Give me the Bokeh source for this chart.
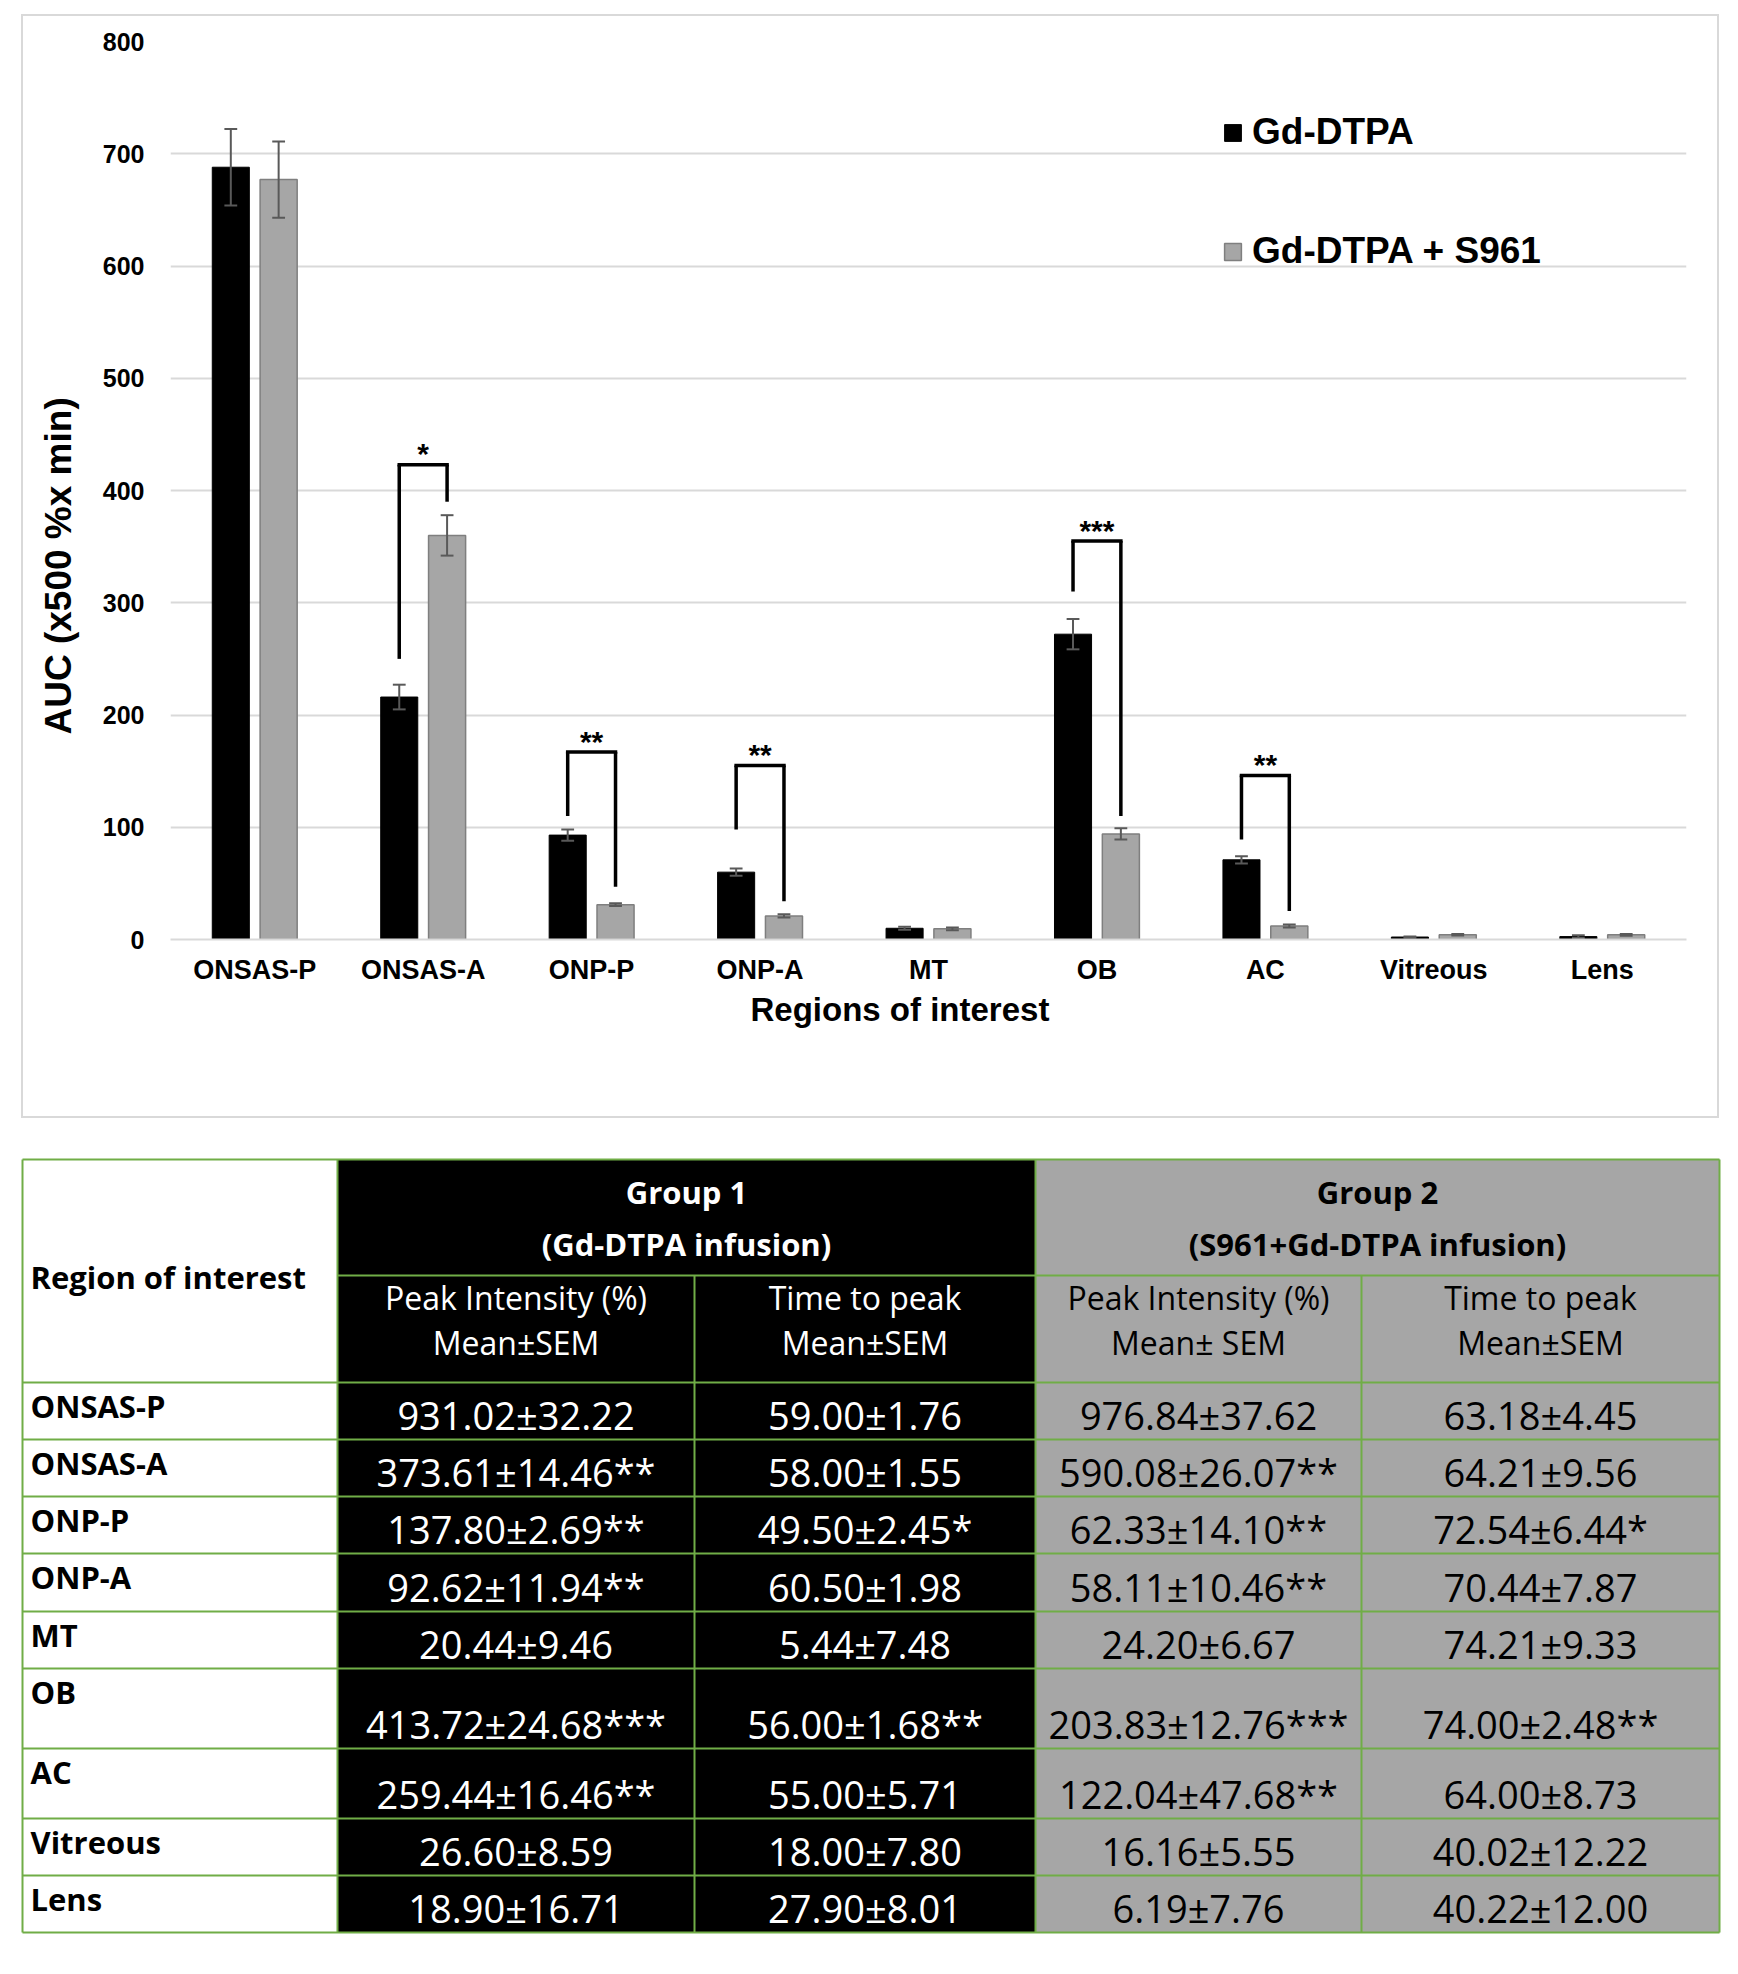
import math
from bokeh.plotting import figure
from bokeh.models import ColumnDataSource, FactorRange, Range1d, FixedTicker, Legend, LegendItem, Title
from bokeh.transform import dodge
from bokeh.embed import file_html
from bokeh.resources import INLINE
from bokeh.core.properties import value

# ---------------- data ----------------
regions = ["ONSAS-P", "ONSAS-A", "ONP-P", "ONP-A", "MT", "OB", "AC", "Vitreous", "Lens"]
auc_gd = [688, 216, 93, 60, 10, 272, 71, 2.2, 2.6]
sem_gd = [34, 11, 5, 3.3, 1.3, 13.5, 3.2, 0.4, 1.2]
auc_s961 = [677, 360, 31, 21, 9.5, 94, 12, 4.2, 4.2]
sem_s961 = [34, 18, 1.2, 1.4, 1.3, 5, 1.3, 0.6, 0.8]
y_ticks = [0, 100, 200, 300, 400, 500, 600, 700, 800]

sig_regions = ["ONSAS-A", "ONP-P", "ONP-A", "OB", "AC"]
sig_top = [423, 167, 155, 355, 146]
sig_left_end = [250, 110, 98, 310, 89]
sig_right_end = [390, 47, 34, 110, 25.5]
sig_stars = ["*", "**", "**", "***", "**"]

series_names = ["Gd-DTPA", "Gd-DTPA + S961"]
y_title = "AUC (x500 %x min)"
x_title = "Regions of interest"

g1_peak = ["931.02±32.22", "373.61±14.46**", "137.80±2.69**", "92.62±11.94**", "20.44±9.46",
           "413.72±24.68***", "259.44±16.46**", "26.60±8.59", "18.90±16.71"]
g1_ttp = ["59.00±1.76", "58.00±1.55", "49.50±2.45*", "60.50±1.98", "5.44±7.48",
          "56.00±1.68**", "55.00±5.71", "18.00±7.80", "27.90±8.01"]
g2_peak = ["976.84±37.62", "590.08±26.07**", "62.33±14.10**", "58.11±10.46**", "24.20±6.67",
           "203.83±12.76***", "122.04±47.68**", "16.16±5.55", "6.19±7.76"]
g2_ttp = ["63.18±4.45", "64.21±9.56", "72.54±6.44*", "70.44±7.87", "74.21±9.33",
          "74.00±2.48**", "64.00±8.73", "40.02±12.22", "40.22±12.00"]

# ---------------- chart ----------------
FONT = "Liberation Sans"
p = figure(x_range=FactorRange(factors=regions, range_padding=0, factor_padding=0),
           y_range=Range1d(0, 800), width=1718, height=1124,
           output_backend="svg", toolbar_location=None,
           min_border_left=159, min_border_right=43, min_border_top=37, min_border_bottom=189,
           margin=(4, 0, 0, 11),
           styles={"outline": "2px solid #d9d9d9", "outline-offset": "-12px"})
p.outline_line_color = None
p.border_fill_alpha = 0
p.background_fill_alpha = 0
p.xgrid.visible = False
p.ygrid.grid_line_color = "#d9d9d9"
p.ygrid.grid_line_width = 2
p.yaxis.ticker = FixedTicker(ticks=y_ticks)
p.yaxis.axis_line_color = None
p.yaxis.major_tick_line_color = None
p.yaxis.minor_tick_line_color = None
p.yaxis.major_label_standoff = 20
p.yaxis.major_label_text_font = FONT
p.yaxis.major_label_text_font_style = "bold"
p.yaxis.major_label_text_font_size = "25px"
p.yaxis.major_label_text_color = "black"
p.xaxis.axis_line_color = "#d9d9d9"
p.xaxis.axis_line_width = 2
p.xaxis.major_tick_line_color = None
p.xaxis.minor_tick_line_color = None
p.xaxis.major_label_standoff = 9
p.xaxis.major_label_text_font = FONT
p.xaxis.major_label_text_font_style = "bold"
p.xaxis.major_label_text_font_size = "27px"
p.xaxis.major_label_text_color = "black"

off = 0.142
bw = 0.22
cap = 0.038
src = ColumnDataSource(dict(
    region=regions, gd=auc_gd, s961=auc_s961,
    gd_lo=[a - s for a, s in zip(auc_gd, sem_gd)], gd_hi=[a + s for a, s in zip(auc_gd, sem_gd)],
    s_lo=[a - s for a, s in zip(auc_s961, sem_s961)], s_hi=[a + s for a, s in zip(auc_s961, sem_s961)],
))
r1 = p.vbar(x=dodge("region", -off, range=p.x_range), top="gd", width=bw, source=src,
            fill_color="black", line_color="black")
r2 = p.vbar(x=dodge("region", off, range=p.x_range), top="s961", width=bw, source=src,
            fill_color="#a6a6a6", line_color="#7f7f7f", line_width=1.5)

err = dict(line_color="#595959", line_width=2)
for o, lo, hi in [(-off, "gd_lo", "gd_hi"), (off, "s_lo", "s_hi")]:
    p.segment(x0=dodge("region", o, range=p.x_range), y0=lo,
              x1=dodge("region", o, range=p.x_range), y1=hi, source=src, **err)
    for end in (lo, hi):
        p.segment(x0=dodge("region", o - cap, range=p.x_range), y0=end,
                  x1=dodge("region", o + cap, range=p.x_range), y1=end, source=src, **err)

bsrc = ColumnDataSource(dict(region=sig_regions, top=sig_top, left=sig_left_end,
                             right=sig_right_end, stars=sig_stars))
br = dict(line_color="black", line_width=3.5, source=bsrc)
p.segment(x0=dodge("region", -off, range=p.x_range), y0="left",
          x1=dodge("region", -off, range=p.x_range), y1="top", **br)
p.segment(x0=dodge("region", off, range=p.x_range), y0="right",
          x1=dodge("region", off, range=p.x_range), y1="top", **br)
p.segment(x0=dodge("region", -off, range=p.x_range), y0="top",
          x1=dodge("region", off, range=p.x_range), y1="top", line_cap="square", **br)
p.text(x="region", y="top", text="stars", source=bsrc, text_align="center",
       text_baseline="alphabetic", y_offset=-11, text_font=value(FONT),
       text_font_style="bold", text_font_size="30px", text_color="black")

legend = Legend(items=[LegendItem(label=series_names[0], renderers=[r1]),
                       LegendItem(label=series_names[1], renderers=[r2])],
                location=(1052, 667), orientation="vertical",
                glyph_width=21, glyph_height=21, label_height=42, spacing=77,
                label_standoff=9, padding=0, margin=0,
                border_line_color=None, background_fill_alpha=0,
                label_text_font=FONT, label_text_font_style="bold",
                label_text_font_size="37px", label_text_color="black")
p.add_layout(legend)

p.add_layout(Title(text=y_title, align="left", offset=205, standoff=42,
                   text_font=FONT, text_font_style="bold", text_font_size="37px",
                   text_color="black"), "left")
p.add_layout(Title(text=x_title, align="left", offset=580, standoff=2,
                   text_font=FONT, text_font_style="bold", text_font_size="33px",
                   text_color="black"), "below")

# ---------------- table ----------------
TF = "Open Sans"
TOP0 = 1128
t = figure(width=1722, height=820, x_range=Range1d(0, 1722), y_range=Range1d(TOP0 + 820, TOP0),
           output_backend="svg", toolbar_location=None, min_border=0,
           x_axis_type=None, y_axis_type=None)
t.outline_line_color = None
t.xgrid.visible = False
t.ygrid.visible = False

cx = [22, 337, 694, 1035, 1361, 1719]
y_top, y_grp = 1159, 1275
row_edges = [1382, 1439, 1496, 1553, 1611, 1668, 1748, 1818, 1875, 1932]

t.quad(left=[cx[1], cx[3]], right=[cx[3], cx[5]], top=[y_top, y_top],
       bottom=[row_edges[-1]] * 2, fill_color=["black", "#a6a6a6"], line_color=None)

GREEN = "#70ad47"
hx0 = [cx[0], cx[1]] + [cx[0]] * len(row_edges)
hy = [y_top, y_grp] + row_edges
hx1 = [cx[5]] * len(hy)
t.segment(x0=hx0, y0=hy, x1=hx1, y1=hy, line_color=GREEN, line_width=2)
vx = [cx[0], cx[1], cx[3], cx[5], cx[2], cx[4]]
vy0 = [y_top] * 4 + [y_grp] * 2
vy1 = [row_edges[-1]] * 6
t.segment(x0=vx, y0=vy0, x1=vx, y1=vy1, line_color=GREEN, line_width=2)

def ttext(xs, ys, texts, color, size, bold=False, align="center"):
    t.text(x=xs, y=ys, text=texts, text_align=align, text_baseline="middle",
           text_font=value(TF), text_font_size=size, text_color=color,
           text_font_style="bold" if bold else "normal")

c2 = (cx[1] + cx[3]) / 2
c4 = (cx[3] + cx[5]) / 2
BS, HS, VS = "31px", "32px", "38px"
ttext([c2, c2], [1191, 1243], ["Group 1", "(Gd-DTPA infusion)"], "white", BS, True)
ttext([c4, c4], [1191, 1243], ["Group 2", "(S961+Gd-DTPA infusion)"], "black", BS, True)
ttext([30], [1276], ["Region of interest"], "black", BS, True, "left")
col_c = [(cx[i] + cx[i + 1]) / 2 for i in range(5)]
ttext([col_c[1], col_c[1], col_c[2], col_c[2]], [1297, 1342, 1297, 1342],
      ["Peak Intensity (%)", "Mean±SEM", "Time to peak", "Mean±SEM"], "white", HS)
ttext([col_c[3], col_c[3], col_c[4], col_c[4]], [1297, 1342, 1297, 1342],
      ["Peak Intensity (%)", "Mean± SEM", "Time to peak", "Mean±SEM"], "black", HS)

row_tops = row_edges[:-1]
row_bottoms = row_edges[1:]
label_y = [tp + 23 for tp in row_tops]
val_y = [b - 25 for b in row_bottoms]
ttext([30] * len(regions), label_y, regions, "black", BS, True, "left")
ttext([col_c[1]] * 9, val_y, g1_peak, "white", VS)
ttext([col_c[2]] * 9, val_y, g1_ttp, "white", VS)
ttext([col_c[3]] * 9, val_y, g2_peak, "black", VS)
ttext([col_c[4]] * 9, val_y, g2_ttp, "black", VS)

open("out.html", "w").write(file_html([p, t], INLINE))
